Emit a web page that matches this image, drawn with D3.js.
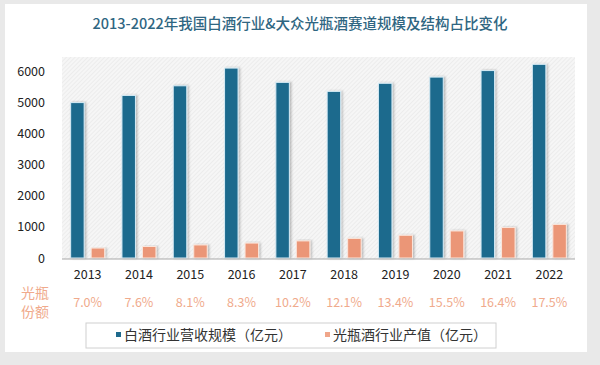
<!DOCTYPE html>
<html><head><meta charset="utf-8">
<script src="https://cdn.jsdelivr.net/npm/d3@7"></script>
<style>
html,body{margin:0;padding:0;background:#e9e9e9;}
svg{display:block;}
</style></head>
<body>
<svg id="chart" width="600" height="365"></svg>
<script>
const years = ["2013","2014","2015","2016","2017","2018","2019","2020","2021","2022"];
const baijiu = [5000,5230,5540,6110,5650,5360,5620,5820,6030,6230];
const guangping = [320,370,420,480,550,630,730,870,980,1080];
const shares = ["7.0%","7.6%","8.1%","8.3%","10.2%","12.1%","13.4%","15.5%","16.4%","17.5%"];
const yTicks = [0,1000,2000,3000,4000,5000,6000];
const seriesNames = ["白酒行业营收规模（亿元）","光瓶酒行业产值（亿元）"];
const title = "2013-2022年我国白酒行业&大众光瓶酒赛道规模及结构占比变化";

const svg = d3.select("#chart");
const font = "'Noto Sans CJK SC','Noto Sans',sans-serif";
const blue = "#1e6a8d", orange = "#eb9677", pct = "#f0aa8c";

const defs = svg.append("defs");
const pat = defs.append("pattern").attr("id","hatch").attr("patternUnits","userSpaceOnUse")
  .attr("width",3).attr("height",3).attr("patternTransform","rotate(45)");
pat.append("rect").attr("width",3).attr("height",3).attr("fill","#f6f6f6");
pat.append("line").attr("x1",0).attr("y1",0).attr("x2",0).attr("y2",3).attr("stroke","#e2e2e2").attr("stroke-width",1);
const f = defs.append("filter").attr("id","sh").attr("x","-30%").attr("y","-10%").attr("width","170%").attr("height","130%");
f.append("feDropShadow").attr("dx",1.5).attr("dy",0).attr("stdDeviation",1.2).attr("flood-color","#000").attr("flood-opacity",0.25);

// card
svg.append("rect").attr("x",5).attr("y",4).attr("width",582).attr("height",348).attr("fill","#fff");

svg.append("text").attr("x",300).attr("y",29).attr("text-anchor","middle")
  .attr("font-family",font).attr("font-size",14.5).attr("font-weight",500)
  .attr("fill","#2f6682").text(title);

const m = {l:62, r:575, t:57, b:259};
const x = d3.scaleBand().domain(years).range([m.l,m.r]);
const y = d3.scaleLinear().domain([0,6000]).range([258,71.5]);

svg.append("rect").attr("x",m.l).attr("y",m.t).attr("width",m.r-m.l).attr("height",m.b-m.t).attr("fill","url(#hatch)");

const bw = 13.5;
const g = svg.append("g");
g.selectAll(".b").data(years).join("rect")
  .attr("x",d=>x(d)+x.bandwidth()/2-bw-3.5).attr("width",bw)
  .attr("y",(d,i)=>y(baijiu[i])).attr("height",(d,i)=>y(0)-y(baijiu[i]))
  .attr("fill",blue).attr("stroke","#d6ecf6").attr("stroke-width",1).attr("filter","url(#sh)");
g.selectAll(".o").data(years).join("rect")
  .attr("x",d=>x(d)+x.bandwidth()/2+3.5).attr("width",bw)
  .attr("y",(d,i)=>y(guangping[i])).attr("height",(d,i)=>y(0)-y(guangping[i]))
  .attr("fill",orange).attr("stroke","#fbe6dc").attr("stroke-width",1).attr("filter","url(#sh)");

svg.append("line").attr("x1",m.l).attr("x2",m.r).attr("y1",m.b).attr("y2",m.b).attr("stroke","#a8a8a8").attr("stroke-width",1.2);

const ya = svg.append("g").attr("transform","translate(58,0)").call(d3.axisLeft(y).tickValues(yTicks).tickFormat(d3.format("d")).tickSize(0).tickPadding(0));
ya.select(".domain").remove();
ya.selectAll("text").attr("font-family",font).attr("font-size",12.5).attr("fill","#222").attr("x",-13);

const xa = svg.append("g").attr("transform","translate(0,270)").call(d3.axisBottom(x).tickSize(0).tickPadding(0));
xa.select(".domain").remove();
xa.selectAll("text").attr("font-family",font).attr("font-size",12.5).attr("fill","#222").attr("dy","0.71em");

svg.selectAll(".pct").data(years).join("text")
  .attr("x",d=>x(d)+x.bandwidth()/2).attr("y",307).attr("text-anchor","middle")
  .attr("font-family",font).attr("font-size",12.5).attr("fill",pct).text((d,i)=>shares[i]);

svg.append("text").attr("x",35).attr("y",298).attr("text-anchor","middle").attr("font-family",font).attr("font-size",14).attr("fill",pct).text("光瓶");
svg.append("text").attr("x",35).attr("y",317).attr("text-anchor","middle").attr("font-family",font).attr("font-size",14).attr("fill",pct).text("份额");

// legend
svg.append("rect").attr("x",86).attr("y",323).attr("width",410).attr("height",25).attr("fill","#fff").attr("stroke","#d0d0d0");
const lg = [{x:116,c:blue,t:seriesNames[0]},{x:325,c:"#f0a68a",t:seriesNames[1]}];
lg.forEach(d=>{
  svg.append("rect").attr("x",d.x).attr("y",332).attr("width",5).attr("height",5).attr("fill",d.c);
  svg.append("text").attr("x",d.x+8).attr("y",340).attr("font-family",font).attr("font-size",14).attr("fill","#333").text(d.t);
});
</script>
</body></html>
